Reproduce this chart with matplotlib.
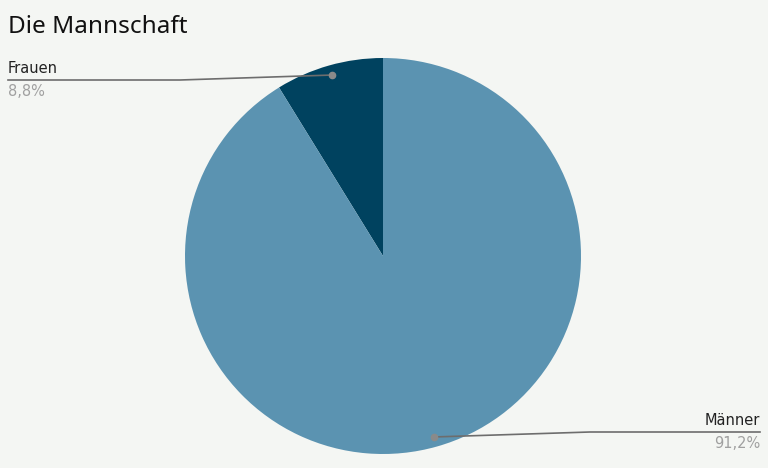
import numpy as np
from matplotlib import pyplot as plt

labels = ["Frauen", "Männer"]
shares = [8.8, 91.2]
pct_text = ["8,8%", "91,2%"]
colors = ["#00425f", "#5b93b1"]

W, H = 768, 468
fig = plt.figure(figsize=(W/100, H/100), dpi=100, facecolor="#f4f6f3")
ax = fig.add_axes([0, 0, 1, 1])
ax.set_facecolor("#f4f6f3")

cx, cy, R = 383, H - 256, 198
ax.pie(shares, colors=colors, startangle=90, counterclock=True,
       center=(cx, cy), radius=R, wedgeprops=dict(linewidth=0))
ax.set_xlim(0, W)
ax.set_ylim(0, H)
ax.set_aspect("equal")
ax.axis("off")

# leader lines
start = 90
ends = [(180, 8, H - 80), (590, 760, H - 432)]
for i, s in enumerate(shares):
    mid = np.deg2rad(start + s * 3.6 / 2)
    start += s * 3.6
    px, py = cx + 0.95 * R * np.cos(mid), cy + 0.95 * R * np.sin(mid)
    bx, ex, ly = ends[i]
    ax.plot([px, bx, ex], [py, ly, ly], color="#6d6d6d", lw=1.2, zorder=3)
    ax.plot(px, py, "o", color="#8a8a8a", ms=4.5, zorder=4)
    ha = "left" if ex < cx else "right"
    ax.text(ex, ly + 4, labels[i], ha=ha, va="bottom", fontsize=10.5, color="#222222")
    ax.text(ex, ly - 4, pct_text[i], ha=ha, va="top", fontsize=10.5, color="#a0a0a0")

fig.text(8/W, 1 - 27/H, "Die Mannschaft", ha="left", va="center", fontsize=17.5,
         family="Noto Sans", color="#111111")

plt.savefig("out.png", dpi=100, facecolor=fig.get_facecolor())
